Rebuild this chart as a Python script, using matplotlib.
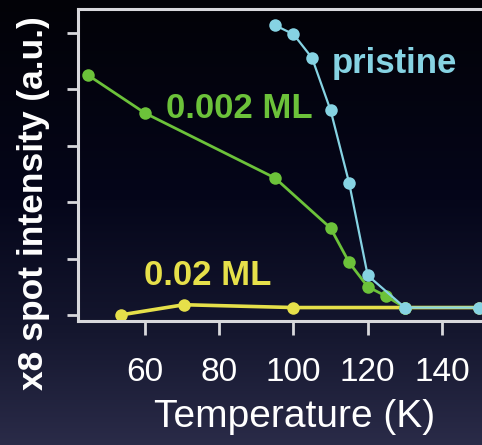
import numpy as np
import matplotlib
matplotlib.use("Agg")
import matplotlib.pyplot as plt
from matplotlib.colors import LinearSegmentedColormap

plt.rcParams["font.family"] = ["Liberation Sans", "DejaVu Sans"]

# Temperature (K) vs x8 spot intensity (a.u.)
pristine_T = [95, 100, 105, 110, 115, 120, 130, 150]
pristine_I = [5.14, 4.98, 4.56, 3.63, 2.34, 0.70, 0.13, 0.13]

ml002_T = [44.5, 60, 95, 110, 115, 120, 125, 130]
ml002_I = [4.26, 3.58, 2.43, 1.54, 0.93, 0.50, 0.33, 0.13]

ml02_T = [53.5, 70.5, 100, 130, 150]
ml02_I = [0.0, 0.18, 0.13, 0.13, 0.13]

x_ticks = [60, 80, 100, 120, 140]
y_ticks = [0, 1, 2, 3, 4, 5]

GREEN = "#6cc23a"
CYAN = "#86d3e3"
YELLOW = "#e6e04a"
SPINE = "#d8d8dc"

fig = plt.figure(figsize=(4.82, 4.45), dpi=100)

# dark slide background, black at the top fading to navy at the bottom
bg = fig.add_axes([0, 0, 1, 1])
bg_cmap = LinearSegmentedColormap.from_list(
    "bg", [(0.0, "#020207"), (0.45, "#05061a"), (0.75, "#15172f"), (1.0, "#2a2b48")])
bg.imshow(np.linspace(0, 1, 256).reshape(-1, 1), aspect="auto", cmap=bg_cmap,
          extent=[0, 1, 0, 1], origin="upper")
bg.set_axis_off()

ax = fig.add_axes([0.162, 0.279, 0.838, 0.701])
ax.set_facecolor("none")

ax.plot(ml02_T, ml02_I, color=YELLOW, lw=2.6, marker="o", ms=9,
        markeredgewidth=0, zorder=2)
ax.plot(ml002_T, ml002_I, color=GREEN, lw=2.0, marker="o", ms=9,
        markeredgewidth=0, zorder=3)
ax.plot(pristine_T, pristine_I, color=CYAN, lw=1.6, marker="o", ms=9,
        markeredgewidth=0, zorder=4)

# series labels, placed in data coordinates
ax.text(110.3, 4.30, "pristine", color=CYAN, fontsize=25, fontweight="bold",
        va="baseline")
ax.text(65.7, 3.49, "0.002 ML", color=GREEN, fontsize=25, fontweight="bold",
        va="baseline")
ax.text(59.7, 0.53, "0.02 ML", color=YELLOW, fontsize=25, fontweight="bold",
        va="baseline")

ax.set_xlim(41.95, 150.8)
ax.set_ylim(-0.106, 5.43)
ax.set_xticks(x_ticks)
ax.set_yticks(y_ticks)
ax.set_yticklabels([])

for side in ("left", "bottom", "top"):
    ax.spines[side].set_color(SPINE)
    ax.spines[side].set_linewidth(2.2)
ax.spines["right"].set_visible(False)

ax.tick_params(axis="x", colors=SPINE, length=10, width=2, direction="out",
               labelsize=24, labelcolor="white", pad=16)
ax.tick_params(axis="y", colors=SPINE, length=8, width=2, direction="out")

ax.set_xlabel("Temperature (K)", color="white", fontsize=28)
ax.set_ylabel("x8 spot intensity (a.u.)", color="white", fontsize=25.5,
              fontweight="bold")
# both axis titles sit off the axes centre in the original slide
ax.xaxis.set_label_coords(0.537, -0.25)
ax.yaxis.set_label_coords(-0.069, 0.378)

fig.savefig("out.png", dpi=100)
